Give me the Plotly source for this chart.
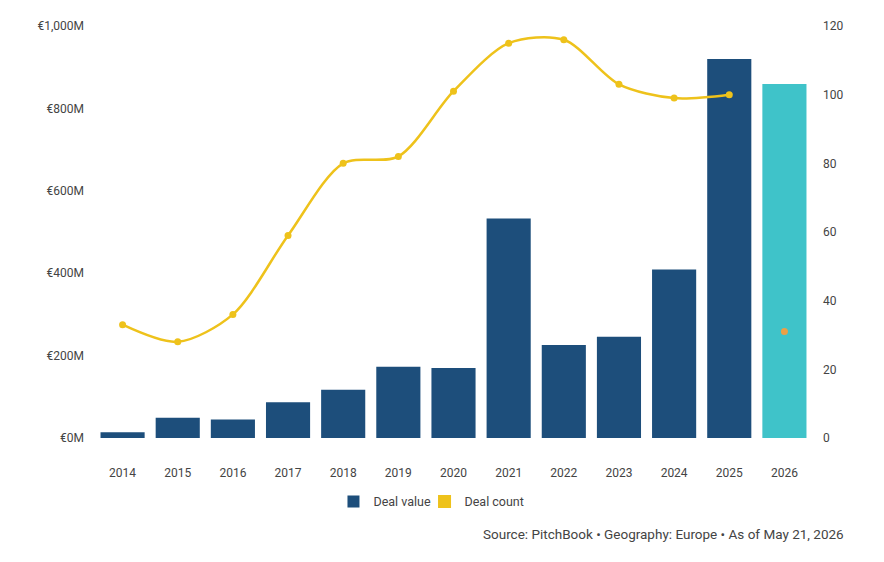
import plotly.graph_objects as go

# Values
years = ["2014", "2015", "2016", "2017", "2018", "2019", "2020",
         "2021", "2022", "2023", "2024", "2025", "2026"]
deal_value = [14, 49, 45, 87, 117, 173, 170, 533, 226, 246, 409, 920, 859]   # EUR millions
deal_count = [33, 28, 36, 59, 80, 82, 101, 115, 116, 103, 99, 100, None]
count_2026 = [31]

NAVY = "#1D4E7B"
TEAL = "#3FC3C9"
YELLOW = "#EEC21B"
ORANGE = "#EBA047"
TEXT = "#444444"

bar_colors = [NAVY] * (len(years) - 1) + [TEAL]

fig = go.Figure()

fig.add_trace(go.Bar(
    x=years, y=deal_value, name="Deal value",
    marker=dict(color=bar_colors, line=dict(width=0)),
    yaxis="y", legend="legend",
))

# Deal count line (legend entry handled by a dummy square marker below)
fig.add_trace(go.Scatter(
    x=years, y=deal_count, mode="lines+markers",
    line=dict(color=YELLOW, width=2.5, shape="spline", smoothing=0.85),
    marker=dict(color=YELLOW, size=7),
    yaxis="y2", showlegend=False, connectgaps=False,
))

# 2026 partial-year count shown as a lone dot
fig.add_trace(go.Scatter(
    x=years[-1:], y=count_2026, mode="markers",
    marker=dict(color=ORANGE, size=7),
    yaxis="y2", showlegend=False,
))

fig.add_trace(go.Scatter(
    x=[None], y=[None], mode="markers", name="Deal count",
    marker=dict(color=YELLOW, size=13, symbol="square"),
    yaxis="y2", legend="legend2",
))

legend_style = dict(orientation="h", y=-0.155, xanchor="left", yanchor="middle",
                    font=dict(size=12.5, color=TEXT), itemclick=False,
                    bgcolor="rgba(0,0,0,0)")

fig.update_layout(
    width=884, height=562,
    margin=dict(l=87, r=80, t=11, b=132),
    paper_bgcolor="white", plot_bgcolor="white",
    font=dict(family="Roboto", size=12, color=TEXT),
    bargap=0.2,
    showlegend=True,
    legend=dict(x=0.3326, **legend_style),
    legend2=dict(x=0.4596, **legend_style),
    xaxis=dict(type="category", range=[-0.5, 12.5], showgrid=False, showline=False,
               zeroline=False, ticks="", ticklabelstandoff=26),
    yaxis=dict(range=[0, 1000], dtick=200, tickprefix="€", ticksuffix="M",
               tickformat=",", showgrid=False, zeroline=False, showline=False,
               ticklabelstandoff=10),
    yaxis2=dict(range=[0, 120], dtick=20, overlaying="y", side="right",
                showgrid=False, zeroline=False, showline=False,
                ticklabelstandoff=10),
    annotations=[dict(
        text="Source: PitchBook • Geography: Europe • As of May 21, 2026",
        xref="paper", yref="paper", x=1.048, y=-0.234,
        xanchor="right", yanchor="middle", showarrow=False,
        font=dict(size=13.5, color=TEXT),
    )],
)

fig.write_html("out.html")
